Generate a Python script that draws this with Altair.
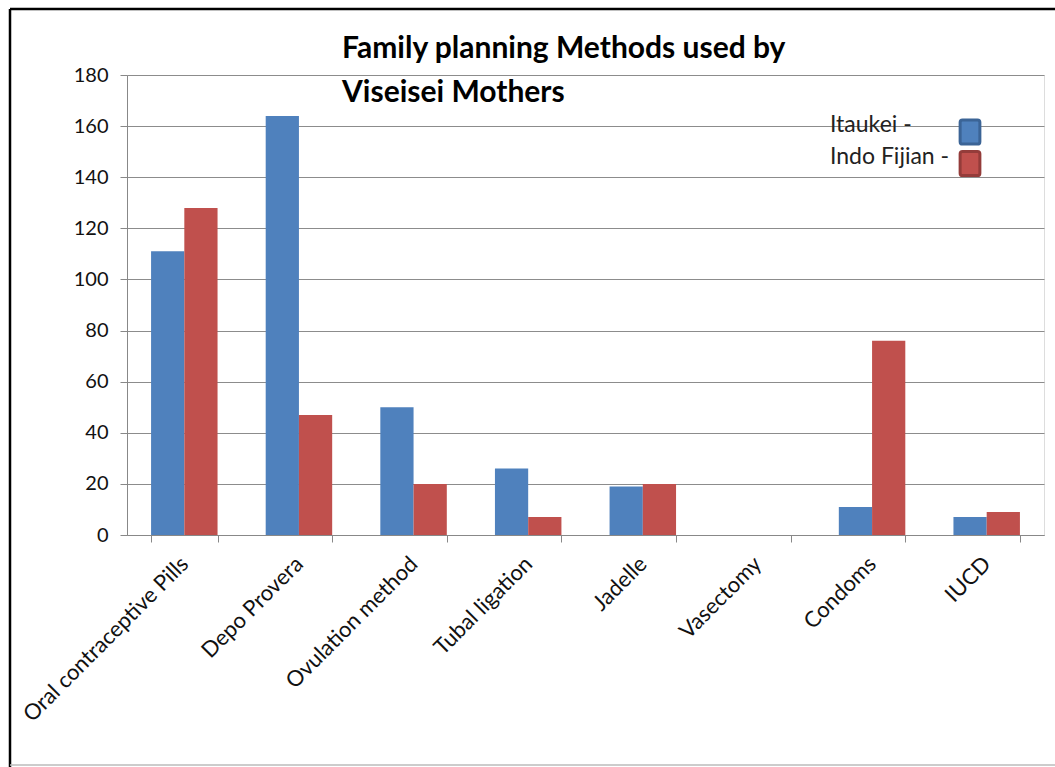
import altair as alt
import pandas as pd

categories = ["Oral contraceptive Pills", "Depo Provera", "Ovulation method", "Tubal ligation",
              "Jadelle", "Vasectomy", "Condoms", "IUCD"]
itaukei = [111, 164, 50, 26, 19, 0, 11, 7]
indo_fijian = [128, 47, 20, 7, 20, 0, 76, 9]
series = ["Itaukei", "Indo Fijian"]
fills = ["#4F81BD", "#C0504D"]
strokes = ["#3B6496", "#943C3A"]
y_ticks = list(range(0, 181, 20))

rows = []
for c, a, b in zip(categories, itaukei, indo_fijian):
    rows.append({"Method": c, "Group": series[0], "Count": a})
    rows.append({"Method": c, "Group": series[1], "Count": b})
df = pd.DataFrame(rows)
legend_df = pd.DataFrame({"Group": series, "Label": [s + " -" for s in series]})

FONT = "Lato"
W, H = 917, 460

rounded = ("M -0.62,-1 L 0.62,-1 Q 0.82,-1 0.82,-0.8 L 0.82,0.8 Q 0.82,1 0.62,1 "
           "L -0.62,1 Q -0.82,1 -0.82,0.8 L -0.82,-0.8 Q -0.82,-1 -0.62,-1 Z")

fill_scale = alt.Scale(domain=series, range=fills)
stroke_scale = alt.Scale(domain=series, range=strokes)

bars = alt.Chart(df).mark_bar(strokeWidth=0).encode(
    x=alt.X("Method:N", sort=categories, title=None,
            scale=alt.Scale(paddingInner=0.42, paddingOuter=0.21),
            axis=alt.Axis(labelAngle=-45, labelAlign="right", labelBaseline="middle",
                          labelFontSize=22, labelFont=FONT, labelColor="#111111",
                          labelPadding=18, tickBand="extent", tickSize=7,
                          tickColor="#888888", domainColor="#888888", labelLimit=400)),
    xOffset=alt.XOffset("Group:N", sort=series),
    y=alt.Y("Count:Q", title=None,
            scale=alt.Scale(domain=[0, 180], nice=False),
            axis=alt.Axis(values=y_ticks, labelFontSize=20, labelFont=FONT,
                          labelColor="#111111", tickSize=7, labelPadding=12,
                          tickColor="#888888", domainColor="#888888",
                          gridColor="#8C8C8C", gridWidth=1.2)),
    fill=alt.Fill("Group:N", sort=series, scale=fill_scale, legend=None),
)

leg_y = alt.Y("Group:N", sort=series, axis=None,
              scale=alt.Scale(domain=series, range=[57, 88.5], padding=0))

leg_text = alt.Chart(legend_df).mark_text(
    align="left", baseline="alphabetic", font=FONT, fontSize=23, color="#222222"
).encode(x=alt.value(703), y=leg_y, text="Label:N")

leg_sym = alt.Chart(legend_df).mark_point(
    shape=rounded, size=580, filled=True, strokeWidth=3, opacity=1
).encode(x=alt.value(843), y=leg_y,
         fill=alt.Fill("Group:N", sort=series, scale=fill_scale, legend=None),
         stroke=alt.Stroke("Group:N", sort=series, scale=stroke_scale, legend=None))

frame = pd.DataFrame({"k": [0]})
top_line = alt.Chart(frame).mark_rule(color="black", strokeWidth=2.5).encode(
    x=alt.value(-117), x2=alt.value(940), y=alt.value(-66))
left_line = alt.Chart(frame).mark_rule(color="black", strokeWidth=2.5).encode(
    x=alt.value(-117), y=alt.value(-66), y2=alt.value(700))
bottom_line = alt.Chart(frame).mark_rule(color="#BBBBBB", strokeWidth=1.5).encode(
    x=alt.value(-117), x2=alt.value(940), y=alt.value(690))

chart = alt.layer(bars, leg_text, leg_sym, top_line, left_line, bottom_line).resolve_scale(
    y="independent"
).properties(
    width=W, height=H,
    autosize=alt.AutoSizeParams(type="none"),
    padding={"left": 127, "top": 75, "right": 11, "bottom": 232},
    title=alt.TitleParams(
        text=["Family planning Methods used by", "Viseisei Mothers"],
        anchor="start", frame="group", dx=215, dy=130, offset=0,
        font=FONT, fontSize=30, fontWeight="bold", color="black",
        lineHeight=44, baseline="bottom"),
).configure_view(stroke=None).configure(background="white")

chart.save("out.html", embed_options={"renderer": "svg", "actions": False})
